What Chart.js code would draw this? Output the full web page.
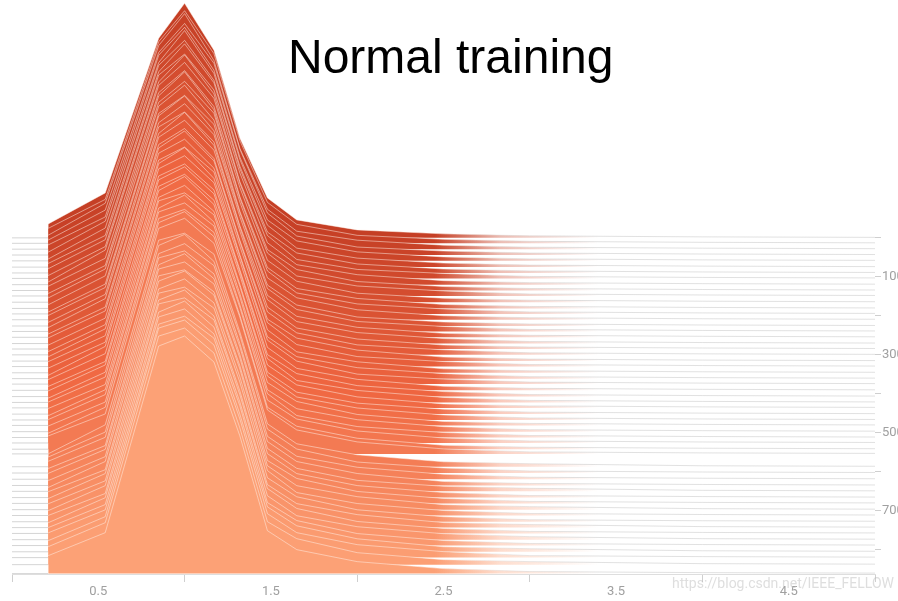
<!DOCTYPE html>
<html>
<head>
<meta charset="utf-8">
<script src="https://cdn.jsdelivr.net/npm/chart.js@4.4.1/dist/chart.umd.min.js"></script>
<style>
  html, body { margin: 0; padding: 0; background: #fff; overflow: hidden; }
  #wrap { position: relative; width: 898px; height: 601px; }
  #title { position: absolute; left: 288px; top: 33px; font: 48px/48px "Liberation Sans", Arial, sans-serif; color: #000; white-space: nowrap; }
  #mark { position: absolute; left: 672px; top: 575px; font: 14px Roboto, sans-serif; color: rgba(190,190,190,0.5); white-space: nowrap; }
</style>
</head>
<body>
<div id="wrap">
  <canvas id="ridges" width="898" height="601"></canvas>
  <div id="title">Normal training</div>
  <div id="mark">https://blog.csdn.net/IEEE_FELLOW</div>
</div>
<script>
// histogram bin centres (x) and the training step of every histogram
const binX = [0.21, 0.54, 0.85, 1.0, 1.17, 1.32, 1.48, 1.65, 2.0, 2.5, 3.0, 4.0, 5.0];
const steps = [0, 14, 29, 44, 59, 75, 90, 104, 120, 135, 149, 165, 181, 195, 210, 226, 240, 255, 271, 285,
  300, 316, 330, 346, 361, 375, 391, 407, 422, 436, 452, 467, 481, 497, 512, 526, 542, 554, 587, 603,
  619, 635, 650, 666, 681, 697, 712, 728, 743, 758, 774, 789, 805, 820, 838, 861];

// one row per step, one value per bin
const histograms = [
  [14, 45, 200, 235, 188, 100, 40, 18, 8, 4, 2, 1, 0.5],
  [15, 44, 202, 233, 190, 103, 41, 19, 8, 4, 2, 1, 0.5],
  [14, 46, 204, 236, 189, 101, 40, 18, 9, 4, 2, 1, 0.5],
  [15, 45, 203, 232, 192, 106, 42, 19, 8, 4, 2, 1, 0.5],
  [16, 44, 206, 234, 191, 104, 41, 20, 9, 4, 2, 1, 0.5],
  [15, 46, 205, 237, 194, 108, 42, 19, 9, 4, 2, 1, 0.5],
  [14, 45, 208, 233, 193, 107, 41, 20, 9, 4, 2, 1, 0.5],
  [15, 43, 207, 235, 196, 110, 43, 19, 9, 5, 2, 1, 0.5],
  [16, 45, 210, 231, 195, 112, 42, 20, 10, 4, 2, 1, 0.5],
  [15, 44, 209, 236, 197, 109, 41, 21, 9, 4, 2, 1, 0.5],
  [14, 46, 211, 234, 198, 113, 43, 20, 10, 5, 2, 1, 0.5],
  [16, 44, 210, 232, 196, 115, 42, 21, 9, 4, 2, 1, 0.5],
  [15, 43, 213, 237, 199, 112, 41, 20, 10, 4, 2, 1, 0.5],
  [16, 45, 212, 233, 201, 116, 43, 21, 10, 5, 2, 1, 0.5],
  [15, 44, 214, 235, 200, 118, 42, 22, 10, 4, 2, 1, 0.5],
  [14, 42, 213, 231, 202, 115, 41, 21, 9, 4, 2, 1, 0.5],
  [16, 44, 216, 236, 201, 119, 43, 22, 10, 5, 2, 1, 0.5],
  [15, 43, 215, 234, 203, 121, 42, 21, 10, 4, 2, 1, 0.5],
  [16, 45, 217, 232, 202, 118, 44, 22, 11, 5, 2, 1, 0.5],
  [15, 42, 216, 237, 204, 122, 42, 21, 10, 4, 2, 1, 0.5],
  [17, 44, 218, 235, 205, 124, 43, 22, 10, 5, 2, 1, 0.5],
  [16, 43, 217, 233, 203, 121, 42, 23, 11, 4, 2, 1, 0.5],
  [15, 42, 219, 236, 206, 125, 44, 22, 10, 5, 2, 1, 0.5],
  [16, 44, 220, 234, 205, 127, 43, 21, 11, 4, 2, 1, 0.5],
  [17, 43, 219, 232, 207, 124, 42, 22, 11, 5, 2, 1, 0.5],
  [16, 42, 221, 237, 206, 128, 44, 23, 10, 5, 2, 1, 0.5],
  [15, 44, 222, 235, 208, 130, 43, 22, 11, 4, 2, 1, 0.5],
  [17, 43, 221, 233, 207, 127, 42, 23, 11, 5, 2, 1, 0.5],
  [16, 41, 223, 236, 209, 131, 44, 22, 12, 5, 2, 1, 0.5],
  [17, 43, 222, 234, 208, 133, 43, 23, 11, 4, 2, 1, 0.5],
  [16, 42, 224, 238, 210, 130, 42, 22, 11, 5, 2, 1, 0.5],
  [18, 43, 223, 235, 209, 134, 44, 23, 12, 5, 2, 1, 0.5],
  [17, 41, 225, 233, 211, 132, 43, 24, 11, 4, 2, 1, 0.5],
  [16, 42, 224, 237, 210, 135, 42, 23, 12, 5, 2, 1, 0.5],
  [18, 43, 226, 235, 212, 133, 44, 22, 11, 5, 2, 1, 0.5],
  [17, 41, 225, 234, 211, 136, 43, 24, 12, 5, 2, 1, 0.5],
  [16, 42, 227, 238, 213, 134, 42, 23, 11, 4, 2, 1, 0.5],
  [18, 40, 226, 236, 211, 137, 44, 24, 12, 5, 2, 1, 0.5],
  [13, 42, 227, 234, 213, 135, 43, 23, 12, 5, 3, 1, 0.5],
  [16, 41, 228, 239, 212, 138, 44, 24, 11, 5, 2, 1, 0.5],
  [18, 42, 226, 236, 214, 136, 43, 23, 12, 5, 2, 1, 0.5],
  [17, 40, 228, 235, 212, 139, 44, 24, 12, 4, 2, 1, 0.5],
  [18, 42, 227, 238, 213, 137, 43, 23, 11, 5, 3, 1, 0.5],
  [17, 41, 229, 236, 214, 140, 44, 24, 12, 5, 2, 1, 0.5],
  [16, 42, 228, 234, 212, 138, 43, 25, 12, 5, 2, 1, 0.5],
  [18, 40, 229, 239, 215, 141, 44, 24, 13, 5, 3, 1, 0.5],
  [17, 42, 227, 237, 213, 139, 45, 23, 12, 5, 2, 1, 0.5],
  [18, 41, 229, 235, 214, 140, 44, 25, 12, 5, 2, 1, 0.5],
  [17, 42, 228, 238, 212, 137, 43, 24, 13, 5, 3, 1, 0.5],
  [18, 40, 230, 236, 214, 139, 45, 25, 12, 5, 2, 1, 0.5],
  [17, 42, 228, 239, 213, 138, 44, 24, 13, 6, 3, 1, 0.5],
  [18, 41, 229, 237, 212, 140, 43, 25, 12, 5, 2, 1, 0.5],
  [19, 42, 228, 236, 214, 138, 45, 26, 13, 5, 3, 1, 0.5],
  [17, 41, 230, 238, 213, 139, 44, 25, 13, 6, 2, 1, 0.5],
  [18, 42, 229, 237, 212, 137, 43, 26, 12, 5, 3, 1, 0.5],
  [18, 41, 228, 238, 212, 138, 43, 24, 12, 5, 2, 1, 0.5]
];

const xTicks = [0, 0.5, 1, 1.5, 2, 2.5, 3, 3.5, 4, 4.5, 5];
const xLabels = [0.5, 1.5, 2.5, 3.5, 4.5];
const yTicks = [0, 100, 200, 300, 400, 500, 600, 700, 800];
const yLabels = [100, 300, 500, 700];

// how many step units one unit of histogram height takes up
const heightScale = 2.56;

// back (old) ridges are dark, front (new) ridges light
const colorStops = [[197, 63, 37], [239, 102, 64], [252, 161, 118]];

function rampColor(t) {
  const seg = t < 0.5 ? 0 : 1;
  const f = t < 0.5 ? t / 0.5 : (t - 0.5) / 0.5;
  const a = colorStops[seg], b = colorStops[seg + 1];
  return a.map((v, k) => Math.round(v + (b[k] - v) * f));
}

function fadeFill(rgb) {
  const c = rgb.join(",");
  return (context) => {
    const chart = context.chart;
    const xs = chart.scales.x;
    if (!chart.chartArea || !xs) return `rgb(${c})`;
    const g = chart.ctx.createLinearGradient(xs.getPixelForValue(2.45), 0, xs.getPixelForValue(3.4), 0);
    g.addColorStop(0, `rgba(${c},1)`);
    g.addColorStop(0.4, `rgba(${c},0.35)`);
    g.addColorStop(1, `rgba(${c},0)`);
    return g;
  };
}

function fadeStroke(context) {
  const chart = context.chart;
  const xs = chart.scales.x;
  if (!chart.chartArea || !xs) return "rgba(255,255,255,0.5)";
  const g = chart.ctx.createLinearGradient(xs.getPixelForValue(2.45), 0, xs.getPixelForValue(3.2), 0);
  g.addColorStop(0, "rgba(255,240,232,0.5)");
  g.addColorStop(1, "rgba(195,195,195,0.5)");
  return g;
}

const datasets = [];
for (let i = histograms.length - 1; i >= 0; i--) {
  const base = steps[i];
  const points = [{ x: 0, y: base }, { x: binX[0], y: base }];
  histograms[i].forEach((h, k) => points.push({ x: binX[k], y: base - h * heightScale }));
  const rgb = rampColor(i / (histograms.length - 1));
  datasets.push({
    label: "step " + base,
    data: points,
    backgroundColor: fadeFill(rgb),
    borderColor: fadeStroke,
    borderWidth: 1,
    pointRadius: 0,
    tension: 0,
    fill: { value: base },
    segment: {
      borderColor: (ctx) => ctx.p0DataIndex === 0 ? "rgba(185,185,185,0.6)" : ctx.p0DataIndex === 1 ? "rgba(0,0,0,0)" : undefined
    }
  });
}

Chart.defaults.font.family = "Roboto, sans-serif";

new Chart(document.getElementById("ridges"), {
  type: "line",
  data: { datasets },
  options: {
    responsive: false,
    animation: false,
    devicePixelRatio: 1,
    layout: { padding: { left: 12, top: 0, right: 0, bottom: 0 } },
    plugins: { legend: { display: false }, tooltip: { enabled: false } },
    scales: {
      x: {
        type: "linear",
        min: 0,
        max: 5,
        afterBuildTicks: (scale) => { scale.ticks = xTicks.map((v) => ({ value: v })); },
        afterFit: (scale) => { scale.height = 27; scale.paddingLeft = 0; scale.paddingRight = 0; },
        ticks: {
          autoSkip: false,
          maxRotation: 0,
          padding: 2,
          color: "#a0a0a0",
          font: { size: 13 },
          callback: (v) => xLabels.includes(v) ? v.toFixed(1) : ""
        },
        grid: {
          drawOnChartArea: false,
          tickLength: 8,
          color: (ctx) => ctx.tick && ctx.tick.value % 1 === 0 ? "#cfcfcf" : "rgba(0,0,0,0)"
        },
        border: { display: true, color: "#dedede" }
      },
      y: {
        type: "linear",
        position: "right",
        reverse: true,
        min: -610,
        max: 862,
        afterBuildTicks: (scale) => { scale.ticks = yTicks.map((v) => ({ value: v })); },
        afterFit: (scale) => { scale.width = 23; scale.paddingTop = 0; scale.paddingBottom = 0; },
        ticks: {
          autoSkip: false,
          padding: 1,
          color: "#a0a0a0",
          font: { size: 13 },
          callback: (v) => yLabels.includes(v) ? String(v) : ""
        },
        grid: { drawOnChartArea: false, tickLength: 6, color: "#cfcfcf" },
        border: { display: false }
      }
    }
  }
});
</script>
</body>
</html>
